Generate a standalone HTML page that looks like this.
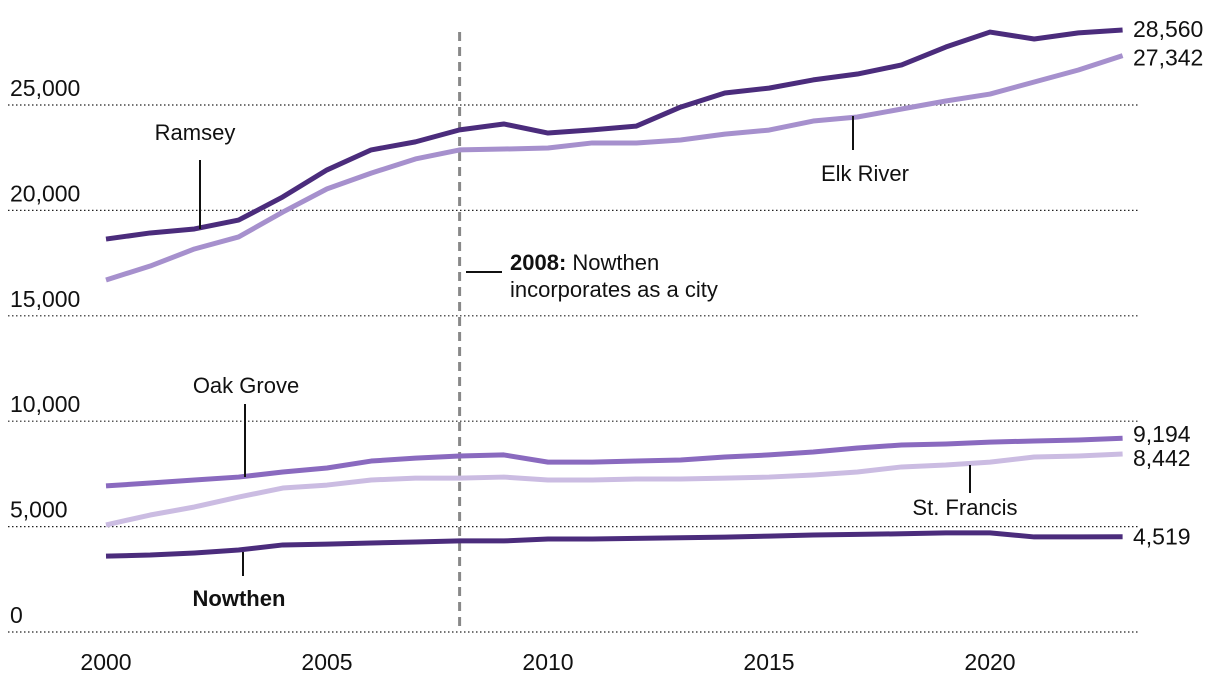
<!DOCTYPE html>
<html><head><meta charset="utf-8"><style>
body{margin:0;background:#fff;}
svg text{font-family:"Liberation Sans Narrow","Liberation Sans",sans-serif;fill:#111;}
</style></head><body>
<svg id="c" width="1220" height="690"></svg>
<script>
const years=[2000,2001,2002,2003,2004,2005,2006,2007,2008,2009,2010,2011,2012,2013,2014,2015,2016,2017,2018,2019,2020,2021,2022,2023];
const ramsey=[18640,18930,19120,19540,20640,21920,22870,23250,23820,24100,23670,23820,24000,24900,25570,25800,26190,26470,26900,27750,28460,28130,28420,28560];
const elkRiver=[16700,17360,18170,18740,19920,21020,21770,22440,22870,22910,22960,23200,23200,23340,23620,23810,24240,24430,24810,25190,25520,26090,26660,27342];
const oakGrove=[6930,7070,7210,7350,7590,7780,8110,8250,8350,8400,8060,8060,8110,8160,8300,8400,8540,8730,8870,8920,9010,9060,9110,9194];
const stFrancis=[5080,5550,5930,6400,6830,6970,7210,7300,7300,7350,7210,7210,7260,7260,7300,7350,7450,7590,7830,7920,8060,8300,8350,8442];
const nowthen=[3600,3650,3750,3890,4130,4170,4220,4270,4320,4320,4410,4410,4440,4470,4500,4550,4600,4630,4660,4700,4700,4510,4515,4519];
const yTicks=[0,5000,10000,15000,20000,25000];
const yTickLabels=["0","5,000","10,000","15,000","20,000","25,000"];
const xTicks=[2000,2005,2010,2015,2020];
const endLabels=["28,560","27,342","9,194","8,442","4,519"];
const svg=document.getElementById('c');
const NS='http://www.w3.org/2000/svg';
const x=v=>106+(v-2000)*44.2;
const y=v=>632-v/5000*105.4;
function mk(t,a,p){const e=document.createElementNS(NS,t);for(const k in a)e.setAttribute(k,a[k]);(p||svg).appendChild(e);return e;}
yTicks.forEach((t,i)=>{
 const l=mk('line',{x1:8,x2:1140,y1:y(t),y2:y(t),stroke:'#222','stroke-width':1.2,'stroke-dasharray':'1.5,2.5'});
 
 
 const tx=mk('text',{x:10,y:y(t)-9,'font-size':23});
 tx.textContent=yTickLabels[i];
 
 
});
xTicks.forEach(t=>{
 const tx=mk('text',{x:x(t),y:670,'font-size':23,'text-anchor':'middle'});
 tx.textContent=t;
 
 
});
const dl=mk('line',{x1:x(2008),x2:x(2008),y1:32,y2:632,stroke:'#888','stroke-width':3,'stroke-dasharray':'9,6'});


const series=[[ramsey,'#4b2c7c','ramsey',-1],[elkRiver,'#a690cd','elk-river',2],[oakGrove,'#8a6abf','oak-grove',-4],[stFrancis,'#cbbce2','st-francis',4],[nowthen,'#4b2c7c','nowthen',0]];
series.forEach(([d,c,n,off],i)=>{
 const p=mk('polyline',{points:d.map((v,j)=>x(years[j])+','+y(v)).join(' '),fill:'none',stroke:c,'stroke-width':5,'stroke-linejoin':'round'});
 
 
 const t=mk('text',{x:1133,y:y(d[d.length-1])+8+off,'font-size':23});
 t.textContent=endLabels[i];
 
 
});
function ann(txt,tx,ty,lx,ly1,ly2,n,bold){
 const l=mk('line',{x1:lx,x2:lx,y1:ly1,y2:ly2,stroke:'#111','stroke-width':2});
 
 
 const t=mk('text',{x:tx,y:ty,'font-size':22,'text-anchor':'middle','font-weight':bold?'bold':'normal'});
 t.textContent=txt;
 
 
}
ann('Ramsey',195,140,200,160,229,'ramsey');
ann('Elk River',865,181,853,116,150,'elk-river');
ann('Oak Grove',246,393,245,404,477,'oak-grove');
ann('St. Francis',965,515,970,465,493,'st-francis');
ann('Nowthen',239,606,243,552,576,'nowthen',true);
const el=mk('line',{x1:466,x2:502,y1:272,y2:272,stroke:'#111','stroke-width':2});


const t1=mk('text',{x:510,y:270,'font-size':22});
t1.innerHTML='<tspan font-weight="bold">2008:</tspan> Nowthen';


const t2=mk('text',{x:510,y:297,'font-size':22});
t2.textContent='incorporates as a city';


</script>
</body></html>
